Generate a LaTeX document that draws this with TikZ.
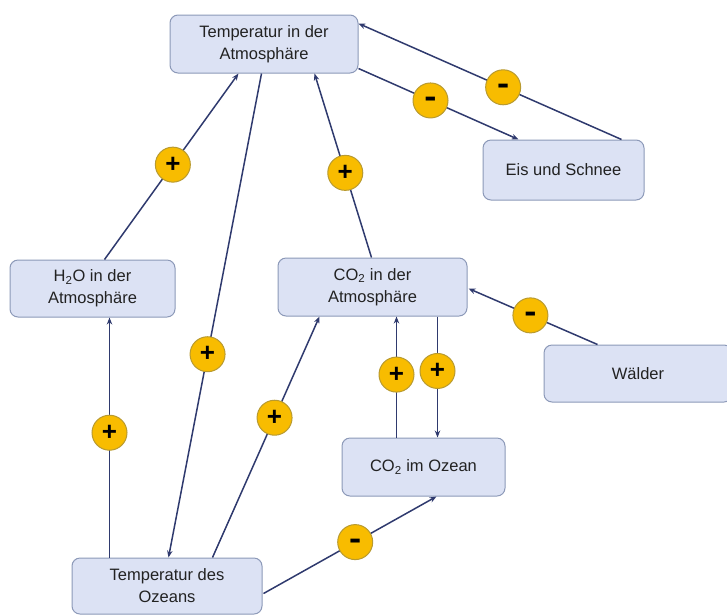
\documentclass[tikz,border=0pt]{standalone}
\usepackage{fontspec}
\setmainfont{Liberation Sans}
\usetikzlibrary{calc,arrows.meta}
\definecolor{boxfill}{HTML}{DCE2F4}
\definecolor{boxline}{HTML}{8C99B8}
\definecolor{linecol}{HTML}{2F3A6E}
\definecolor{badgefill}{HTML}{F8BC00}
\definecolor{badgeline}{HTML}{B89A30}
\definecolor{txt}{HTML}{222222}
\tikzset{
  box/.style={draw=boxline, line width=1pt, fill=boxfill, rounded corners=8pt,
    inner sep=0pt, align=center, text=txt, font=\fontsize{16.5}{22}\selectfont},
  conn/.style={draw=linecol, line width=1.5pt, -{Stealth[length=7pt,width=5.5pt]}},
  badge/.style={circle, draw=badgeline, line width=1pt, fill=badgefill, minimum size=35pt,
    inner sep=0pt, font=\fontsize{26}{26}\selectfont\bfseries, text=black},
  minusbadge/.style={badge, text height=0.57em, text depth=0pt},
}
\newcommand{\mns}{\raisebox{-4.5pt}{\scalebox{1.4}[1.25]{-}}}
\begin{document}
\begin{tikzpicture}[x=1pt,y=-1pt]
\useasboundingbox (0,0) rectangle (727,614);
\node[box, minimum width=188pt, minimum height=58pt] (tatm) at (264,44) {Temperatur in der\\Atmosphäre};
\node[box, minimum width=161pt, minimum height=60pt] (eis) at (563.5,170) {Eis und Schnee};
\node[box, minimum width=165pt, minimum height=57pt] (h2o) at (92.5,288.5) {H\textsubscript{2}O in der\\Atmosphäre};
\node[box, minimum width=189pt, minimum height=58pt] (co2a) at (372.5,287) {CO\textsubscript{2} in der\\Atmosphäre};
\node[box, minimum width=188pt, minimum height=57pt] (wald) at (638,373.5) {Wälder};
\node[box, minimum width=163pt, minimum height=58pt] (co2o) at (423.5,467) {CO\textsubscript{2} im Ozean};
\node[box, minimum width=190pt, minimum height=56pt] (toz) at (167,586) {Temperatur des\\Ozeans};

\draw[conn] ($(h2o.north west)+(95,0)$) -- node[badge,pos=0.51] (b1) {+} ($(tatm.south west)+(69,0)$);
\draw[conn] ($(tatm.south west)+(92,0)$) -- node[badge,pos=0.58] (b2) {+} ($(toz.north west)+(97,0)$);
\draw[conn] ($(co2a.north west)+(94,0)$) -- node[badge,pos=0.46] (b3) {+} ($(tatm.south west)+(145,0)$);
\draw[conn] ($(tatm.south east)+(0,-5)$) -- node[minusbadge,pos=0.45] (b4) {\mns} ($(eis.north west)+(36,0)$);
\draw[conn] ($(eis.north west)+(139,0)$) -- node[minusbadge,pos=0.45] (b5) {\mns} ($(tatm.north east)+(0,9)$);
\draw[conn] ($(toz.north west)+(38,0)$) -- node[badge,pos=0.52] (b6) {+} ($(h2o.south west)+(100,0)$);
\draw[conn] ($(toz.north west)+(141,0)$) -- node[badge,pos=0.58] (b7) {+} ($(co2a.south west)+(42,0)$);
\draw[conn] ($(co2o.north west)+(55,0)$) -- node[badge,pos=0.52] (b8) {+} ($(co2a.south west)+(119,0)$);
\draw[conn] ($(co2a.south west)+(160,0)$) -- node[badge,pos=0.45] (b9) {+} ($(co2o.north west)+(96,0)$);
\draw[conn] ($(wald.north west)+(54,0)$) -- node[minusbadge,pos=0.52] (b10) {\mns} ($(co2a.north east)+(1,31)$);
\draw[conn] ($(toz.north east)+(1,36)$) -- node[minusbadge,pos=0.53] (b11) {\mns} ($(co2o.south west)+(95,0)$);
\end{tikzpicture}
\end{document}
